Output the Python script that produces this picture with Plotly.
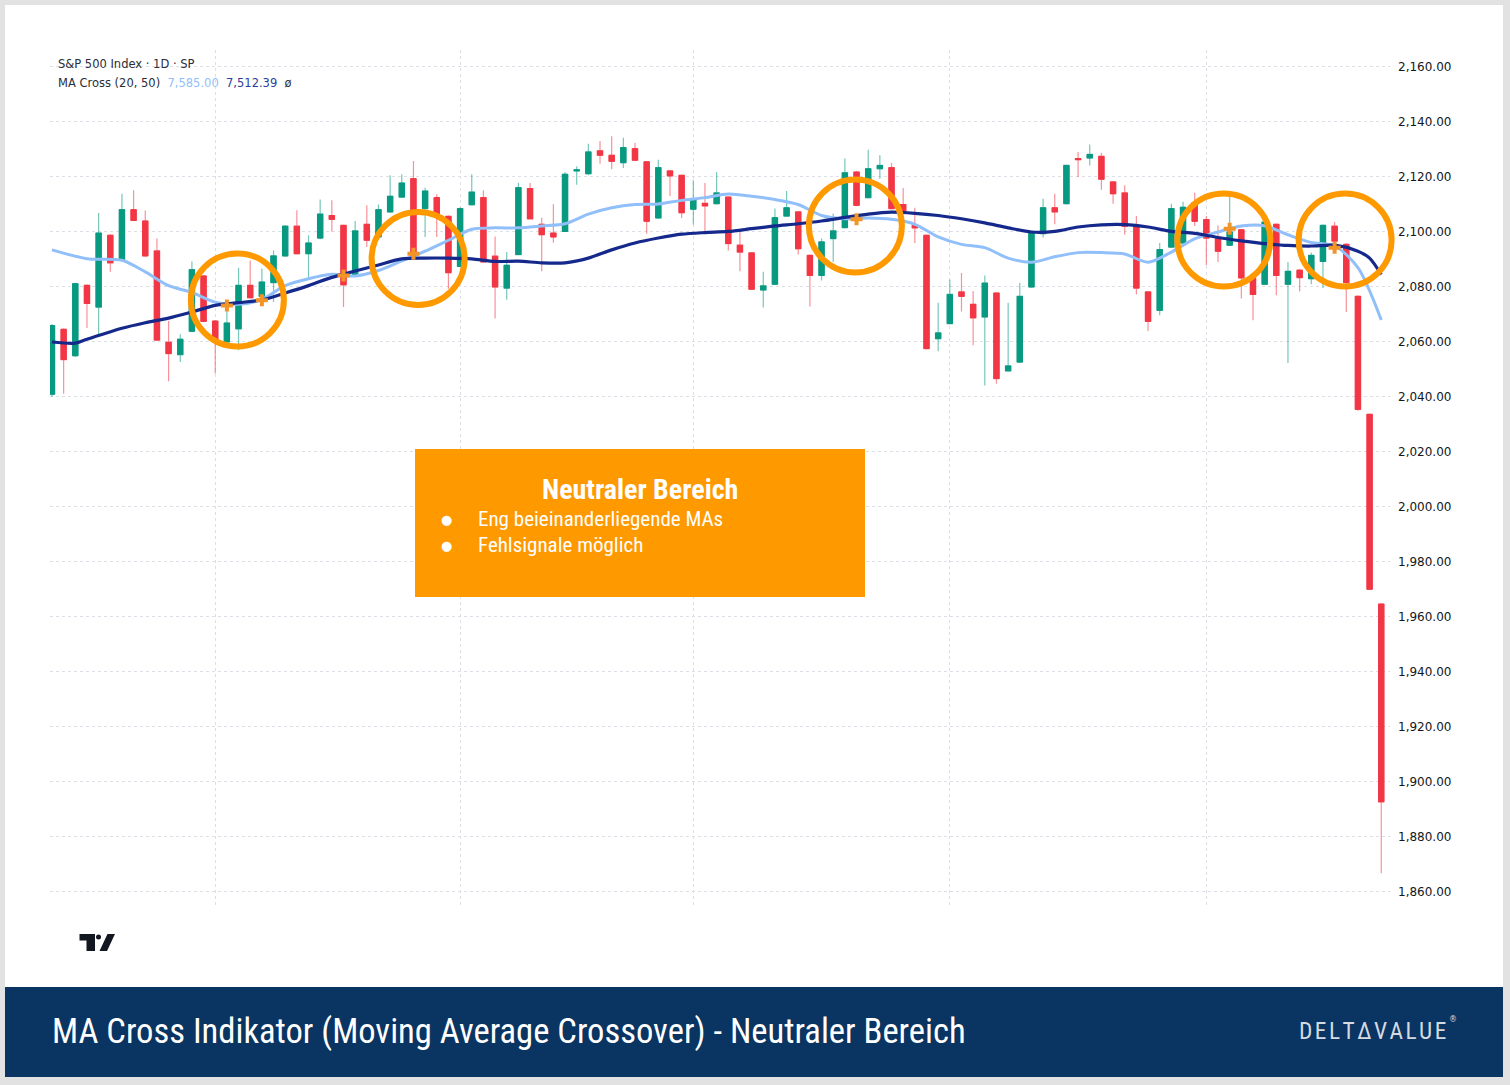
import plotly.graph_objects as go

# ---------------- data ----------------
candle_idx = list(range(115))
opens = [2041, 2064.6, 2055, 2080.6, 2072.7, 2098.8, 2090, 2108.1, 2104, 2093.1,
         2059.9, 2055.4, 2063.9, 2084, 2067.6, 2060, 2064.8, 2080.6, 2076.6, 2081.6,
         2091.3, 2102.1, 2092.1, 2097.8, 2106, 2102.4, 2084.2, 2102.8, 2098.2, 2107.3,
         2112.7, 2119.4, 2108.5, 2112.5, 2105.7, 2087.5, 2109.9, 2112.5, 2091.2, 2079.6,
         2091.8, 2115.8, 2102.8, 2099.6, 2100.2, 2122.2, 2121.2, 2129.5, 2127.9, 2125.2,
         2130.3, 2125.5, 2105.1, 2122.2, 2120.6, 2108.3, 2110.4, 2110.3, 2112.7, 2095.2,
         2092.4, 2078.9, 2081, 2105.8, 2107.3, 2091.5, 2084.2, 2097.6, 2101.6, 2121.8,
         2112.5, 2123, 2123.4, 2110, 2102.4, 2098.8, 2061.2, 2066.7, 2078.2, 2073.7,
         2069.1, 2077.8, 2049.5, 2052.7, 2080, 2099.4, 2108.8, 2110.3, 2126.7, 2126.9,
         2127.5, 2118.2, 2114.2, 2102.4, 2078.2, 2071.5, 2094.5, 2096, 2110.7, 2104.5,
         2097.6, 2095.2, 2100.8, 2083.3, 2081, 2102.8, 2081, 2086.1, 2083, 2089.3,
         2102.1, 2095.5, 2076.6, 2033.7, 1964.7]
highs = [2066.5, 2065, 2081.5, 2081, 2106.9, 2099.2, 2113.9, 2115.2, 2107.8, 2097.6,
         2067.6, 2062.8, 2089.3, 2084.4, 2068, 2074.9, 2087, 2089.6, 2086.7, 2093.3,
         2102.5, 2107.9, 2098.8, 2111.8, 2111.5, 2102.7, 2104, 2109.7, 2110, 2120.6,
         2121, 2125.8, 2116.1, 2113.7, 2106, 2109, 2121, 2115.2, 2098.4, 2092.7,
         2117.9, 2117.8, 2105.2, 2110.1, 2121.8, 2123.9, 2132.1, 2133.1, 2134.8, 2134.3,
         2132.4, 2125.8, 2126.3, 2122.5, 2120.9, 2118.8, 2117.8, 2121.8, 2113, 2101,
         2092.7, 2085.5, 2108.5, 2114.9, 2107.6, 2091.8, 2097.6, 2106.7, 2126.7, 2122.2,
         2129.9, 2127.9, 2125.1, 2116, 2108.8, 2099.1, 2074.3, 2082.7, 2085.1, 2078.5,
         2084.2, 2078.1, 2074.3, 2081.5, 2099.9, 2112.1, 2113.9, 2124.5, 2129.1, 2131.8,
         2128.7, 2118.5, 2117, 2105.8, 2078.5, 2096, 2110.3, 2111, 2114.3, 2105.8,
         2102.4, 2112.7, 2101.1, 2083.5, 2104, 2103.1, 2089.1, 2086.5, 2092.5, 2102.8,
         2103.6, 2096, 2077, 2034, 1965]
lows = [2040, 2041.2, 2054.5, 2065.1, 2062.4, 2085.5, 2089.6, 2103.9, 2091, 2060.4,
        2045.7, 2052.7, 2063.5, 2067.2, 2048.5, 2059.6, 2057, 2075.8, 2073.3, 2074.5,
        2091, 2091.8, 2083, 2097.4, 2100.2, 2072.7, 2083.9, 2094.5, 2097, 2107,
        2112.4, 2091.2, 2098.2, 2098.2, 2079.4, 2087.2, 2109.6, 2088.8, 2068.5, 2075.4,
        2091.5, 2104.5, 2085.7, 2096.1, 2100, 2117.2, 2120.6, 2124.8, 2122.8, 2123.3,
        2125.8, 2099.4, 2104.8, 2113.1, 2105.1, 2102.7, 2099.4, 2110, 2093.3, 2085.7,
        2079, 2072.5, 2080.7, 2105.5, 2091.8, 2072.9, 2082.4, 2089.1, 2101.3, 2109.4,
        2112.2, 2119.4, 2108.2, 2107.2, 2096, 2057.3, 2056.6, 2066.4, 2071.1, 2058.8,
        2044.2, 2044.8, 2049.2, 2052.4, 2079.7, 2098, 2102.8, 2110, 2120, 2124.2,
        2115.4, 2110.3, 2099, 2077.3, 2064, 2069.7, 2094.2, 2095, 2102.2, 2087.9,
        2089.1, 2095, 2075.8, 2067.9, 2080.7, 2077, 2052.4, 2078.4, 2081, 2079.6,
        2096, 2070.9, 2035, 1970, 1866.8]
closes = [2066, 2053.6, 2081.2, 2074, 2099.6, 2088.8, 2108.1, 2104.2, 2091.3, 2060.7,
          2055.8, 2061, 2086.3, 2067.5, 2060, 2066.9, 2080.6, 2076.1, 2081.8, 2091.3,
          2102.1, 2092.1, 2096, 2106.5, 2104.6, 2080.8, 2100.4, 2097, 2108.1, 2113,
          2117.8, 2091.5, 2114.9, 2105.5, 2085.2, 2108.5, 2114.5, 2089.1, 2080, 2087.9,
          2116.1, 2104.8, 2099, 2098.2, 2121, 2122.6, 2129.1, 2127.9, 2125.7, 2130.7,
          2126.1, 2103.9, 2123.4, 2120.4, 2107, 2111.8, 2109.5, 2114.2, 2095.8, 2092.7,
          2079.2, 2080.4, 2105.2, 2108.8, 2093.9, 2084.2, 2096.4, 2100.4, 2121.5, 2109.7,
          2123, 2124.2, 2108.5, 2107.5, 2101.5, 2057.6, 2063.3, 2077.3, 2076.6, 2068.8,
          2081.4, 2046.7, 2051.3, 2076.6, 2099.6, 2108.8, 2107.3, 2124.2, 2126.3, 2128.2,
          2119.2, 2113.9, 2102.1, 2079.6, 2067.5, 2093.6, 2108.5, 2109, 2103.9, 2097.8,
          2093, 2100, 2083.3, 2077.3, 2103.6, 2084.2, 2085.7, 2083.4, 2091.5, 2102.4,
          2096.7, 2081.6, 2035.5, 1970.1, 1892.8]

ma20_idx = [0, 3, 6, 8, 10, 12, 14, 16, 18, 20, 22, 24, 26, 28, 30, 32, 34, 36, 38, 40,
            42, 44, 46, 48, 50, 52, 54, 56, 58, 60, 62, 64, 66, 68, 70, 72, 74, 76, 78, 80,
            82, 84, 86, 88, 90, 92, 94, 96, 98, 100, 102, 104, 106, 108, 110, 112, 114]
ma20_val = [2093.5, 2090.3, 2089.7, 2085.5, 2080.5, 2078, 2074.5, 2073.7, 2075.5, 2080.5,
            2083, 2084.6, 2084, 2086, 2089.5, 2093, 2097, 2101, 2101.5, 2101.5,
            2102.2, 2103, 2106.5, 2108.8, 2110, 2110.2, 2111.5, 2112.5, 2113.8, 2113,
            2111.8, 2110, 2106, 2104.8, 2105.1, 2104.6, 2102.8, 2098.2, 2095.5, 2094.3,
            2090.5, 2089, 2091, 2092.5, 2092.5, 2092, 2089, 2092.7, 2097.5, 2100,
            2102.2, 2102.3, 2099, 2096.2, 2095, 2087, 2068]

ma50_idx = [0, 2, 3, 6, 8, 10, 12, 14, 16, 18, 20, 22, 24, 26, 28, 30, 32, 34, 36, 38,
            40, 42, 44, 46, 48, 50, 52, 54, 56, 58, 60, 62, 64, 66, 68, 70, 72, 74, 76, 78,
            80, 82, 84, 86, 88, 90, 92, 94, 96, 98, 100, 102, 104, 106, 108, 110, 112, 113, 114]
ma50_val = [2060, 2059.6, 2061, 2065, 2067, 2068.7, 2070.9, 2073.3, 2074.3, 2075.3,
            2077.8, 2080.5, 2083.5, 2085.8, 2088, 2090.2, 2090.5, 2090.5, 2090.2, 2089.3,
            2089.4, 2088.8, 2088.8, 2090.5, 2093.5, 2096, 2097.8, 2099.2, 2099.8, 2100.2,
            2101.2, 2102.2, 2103, 2104, 2105.3, 2106.5, 2107.2, 2106.8, 2106, 2104.8,
            2103.3, 2101.5, 2100, 2100.2, 2101.8, 2102.6, 2102.7, 2101.8, 2100.2, 2099.5,
            2098, 2096.8, 2095.8, 2095.1, 2094.9, 2095.2, 2093, 2090.5, 2084.5]

cross_idx = [15, 18, 25, 31, 69, 101, 110]
cross_val = [2073.3, 2075.2, 2084.2, 2092.1, 2104.6, 2101.2, 2094.3]

y_ticks = list(range(1860, 2161, 20))
month_ticks = [14, 35, 55, 77, 99]

circle_idx = [15.9, 31.4, 68.9, 100.5, 110.9]
circle_val = [2075.3, 2090.4, 2102.2, 2097.1, 2097.1]

# ---------------- geometry / styles ----------------
W, H = 1510, 1085
ML, MR, MT, MB = 50, 120, 50, 180
PW, PH = W - ML - MR, H - MT - MB
X_RANGE = [-0.17, 114.75]
Y_RANGE = [1855.27, 2166.18]

GREEN = "#089981"
RED = "#F23645"
GREEN_W = "rgba(8,153,129,0.55)"
RED_W = "rgba(242,54,69,0.55)"
LIGHT_BLUE = "#90BFF9"
DARK_BLUE = "#15298C"
ORANGE = "#FF9900"
NAVY = "#0A3461"
COND = "Roboto Condensed, Liberation Sans Narrow, Roboto, sans-serif"
TVF = "DejaVu Sans, sans-serif"


def px(x):
    return (x - ML) / PW


def py(y):
    return (H - MB - y) / PH


def dx(i):
    return (i - X_RANGE[0]) / (X_RANGE[1] - X_RANGE[0])


def dy(v):
    return (v - Y_RANGE[0]) / (Y_RANGE[1] - Y_RANGE[0])


body_hi = [max(o, c) for o, c in zip(opens, closes)]
body_lo = [min(o, c) for o, c in zip(opens, closes)]

fig = go.Figure()

fig.add_trace(go.Scatter(x=ma20_idx, y=ma20_val, mode="lines",
                         line=dict(color=LIGHT_BLUE, width=3, shape="spline", smoothing=0.8),
                         hoverinfo="skip", showlegend=False))
fig.add_trace(go.Scatter(x=ma50_idx, y=ma50_val, mode="lines",
                         line=dict(color=DARK_BLUE, width=3.2, shape="spline", smoothing=0.8),
                         hoverinfo="skip", showlegend=False))

# wicks (lighter)
fig.add_trace(go.Candlestick(x=candle_idx, open=opens, high=highs, low=lows, close=closes,
                             increasing=dict(line=dict(color=GREEN_W, width=1.2), fillcolor=GREEN_W),
                             decreasing=dict(line=dict(color=RED_W, width=1.2), fillcolor=RED_W),
                             whiskerwidth=0, showlegend=False, hoverinfo="skip"))
# bodies
fig.add_trace(go.Candlestick(x=candle_idx, open=opens, high=body_hi, low=body_lo, close=closes,
                             increasing=dict(line=dict(color=GREEN, width=1), fillcolor=GREEN),
                             decreasing=dict(line=dict(color=RED, width=1), fillcolor=RED),
                             whiskerwidth=0, showlegend=False, hoverinfo="skip"))

fig.add_trace(go.Scatter(x=cross_idx, y=cross_val, mode="markers",
                         marker=dict(symbol="cross", size=10, color="#F39426", line=dict(width=0)),
                         hoverinfo="skip", showlegend=False))

shapes = []
# page frame
shapes.append(dict(type="rect", xref="paper", yref="paper", layer="below",
                   x0=px(5), x1=px(1503), y0=py(1077), y1=py(5),
                   fillcolor="white", line=dict(width=0)))
# bottom banner
shapes.append(dict(type="rect", xref="paper", yref="paper",
                   x0=px(5), x1=px(1503), y0=py(1077), y1=py(987),
                   fillcolor=NAVY, line=dict(width=0)))
# orange info box
shapes.append(dict(type="rect", xref="paper", yref="paper",
                   x0=px(415), x1=px(865), y0=py(597), y1=py(449),
                   fillcolor=ORANGE, line=dict(width=0)))
# circles
for ci, cv in zip(circle_idx, circle_val):
    shapes.append(dict(type="circle", xref="paper", yref="paper",
                       xsizemode="pixel", ysizemode="pixel",
                       xanchor=dx(ci), yanchor=dy(cv),
                       x0=-46.5, x1=46.5, y0=-46.5, y1=46.5,
                       line=dict(color=ORANGE, width=6)))


def ppath(pts):
    return "M " + " L ".join(f"{px(a)},{py(b)}" for a, b in pts) + " Z"


# TradingView logo
logo = [
    [(79.5, 934), (95, 934), (95, 951), (86.5, 951), (86.5, 940.5), (79.5, 940.5)],
    [(99.5, 951), (107, 951), (115, 934), (107.5, 934)],
]
for pts in logo:
    shapes.append(dict(type="path", xref="paper", yref="paper",
                       path=ppath(pts), fillcolor="#131722", line=dict(width=0)))
shapes.append(dict(type="circle", xref="paper", yref="paper",
                   x0=px(96), x1=px(101), y0=py(939.5), y1=py(934.5),
                   fillcolor="#131722", line=dict(width=0)))

nb = "\u00a0"
hs = "\u200a"
annotations = [
    dict(x=px(56), y=py(64), xref="paper", yref="paper", xanchor="left", yanchor="middle",
         text="S&P 500 Index · 1D · SP", showarrow=False,
         font=dict(family=TVF, size=11.5, color="#2a2e39")),
    dict(x=px(56), y=py(83), xref="paper", yref="paper", xanchor="left", yanchor="middle",
         text=("MA Cross (20, 50)" + nb * 2 +
               f"<span style='color:{LIGHT_BLUE}'>7,585.00</span>" + nb * 2 +
               "<span style='color:#2A3F9A'>7,512.39</span>" + nb * 2 + "ø"),
         showarrow=False, font=dict(family=TVF, size=11.5, color="#2a2e39")),
    dict(x=px(640), y=py(489), xref="paper", yref="paper", xanchor="center", yanchor="middle",
         text="<b>Neutraler Bereich</b>", showarrow=False,
         font=dict(family=COND, size=28, color="white")),
    dict(x=px(446), y=py(519), xref="paper", yref="paper", xanchor="center", yanchor="middle",
         text="●", showarrow=False, font=dict(family=TVF, size=13, color="white")),
    dict(x=px(446), y=py(545), xref="paper", yref="paper", xanchor="center", yanchor="middle",
         text="●", showarrow=False, font=dict(family=TVF, size=13, color="white")),
    dict(x=px(476), y=py(519), xref="paper", yref="paper", xanchor="left", yanchor="middle",
         text="Eng beieinanderliegende MAs", showarrow=False,
         font=dict(family=COND, size=21, color="white")),
    dict(x=px(476), y=py(545), xref="paper", yref="paper", xanchor="left", yanchor="middle",
         text="Fehlsignale möglich", showarrow=False,
         font=dict(family=COND, size=21, color="white")),
    dict(x=px(50), y=py(1031), xref="paper", yref="paper", xanchor="left", yanchor="middle",
         text="MA Cross Indikator (Moving Average Crossover) - Neutraler Bereich", showarrow=False,
         font=dict(family=COND, size=34.6, color="white")),
    dict(x=px(1297), y=py(1031), xref="paper", yref="paper", xanchor="left", yanchor="middle",
         text=hs.join("DELTΔVALUE"), showarrow=False,
         font=dict(family=COND, size=23.4, color="#D5DAE2")),
    dict(x=px(1453), y=py(1019), xref="paper", yref="paper", xanchor="center", yanchor="middle",
         text="®", showarrow=False, font=dict(family=TVF, size=8, color="#D5DAE2")),
]

fig.update_layout(
    width=W, height=H,
    margin=dict(l=ML, r=MR, t=MT, b=MB),
    paper_bgcolor="#E2E2E2",
    plot_bgcolor="white",
    showlegend=False,
    boxgap=0.35,
    shapes=shapes,
    annotations=annotations,
    xaxis=dict(range=X_RANGE, rangeslider=dict(visible=False), showticklabels=False,
               tickvals=month_ticks, showgrid=True, gridcolor="#DCDFE6", griddash="dot",
               gridwidth=1, zeroline=False, showline=False, ticks=""),
    yaxis=dict(range=Y_RANGE, side="right", tickvals=y_ticks, tickformat=",.2f",
               showgrid=True, gridcolor="#DCDFE6", griddash="dot", gridwidth=1,
               zeroline=False, showline=False, ticks="", ticklabelstandoff=7,
               tickfont=dict(family=TVF, size=12, color="#131722")),
)

fig.write_html("out.html", config={"displayModeBar": False},
               post_script="document.body.style.margin='0';document.body.style.overflow='hidden';")
